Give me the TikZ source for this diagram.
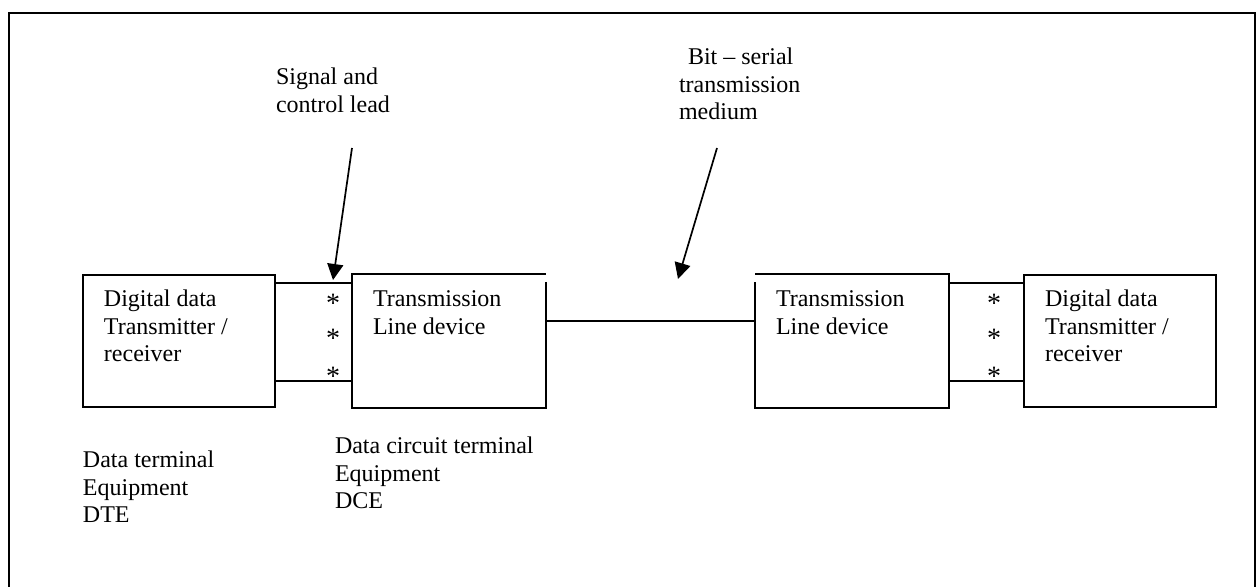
\documentclass[tikz,border=0pt]{standalone}
\usepackage{fontspec}
\setmainfont{Liberation Serif}
\usetikzlibrary{arrows.meta}
\begin{document}
\begin{tikzpicture}[x=0.5pt,y=-0.5pt,
  line width=1pt,
  unit/.style={rectangle,inner sep=0pt,minimum width=96pt,minimum height=66pt,anchor=north west},
  lbl/.style={inner sep=0pt,anchor=base west,align=left,font=\fontsize{12}{13.75}\selectfont},
  star/.style={inner sep=0pt,anchor=base,font=\fontsize{14}{14}\selectfont},
  pointer/.style={line width=0.85pt,-{Triangle[length=8pt,width=8pt]}}]
\useasboundingbox (0,0) rectangle (1260,587);
\clip (0,0) rectangle (1260,587);

% outer frame, open at the bottom
\draw (9,600) -- (9,13) -- (1255,13) -- (1255,600);

% the four units
\node[unit,draw] (dte1) at (82,274) {};
\node[unit] (dce1) at (352,274) {};
\node[unit] (dce2) at (755,274) {};
\node[unit,draw] (dte2) at (1023,274) {};
\draw ([yshift=-4pt]dce1.north east) -- (dce1.south east) -- (dce1.south west)
      -- (dce1.north west) -- (dce1.north east);
\draw (dce2.north west) -- (dce2.north east) -- (dce2.south east)
      -- (dce2.south west) -- ([yshift=-4pt]dce2.north west);

% texts inside the units (anchored on the baseline of their last line)
\node[lbl] (t1) at (103,362) {Digital data\\Transmitter /\\receiver};
\node[lbl] (t2) at (372,334.5) {Transmission\\Line device};
\node[lbl] (t3) at (775,334.5) {Transmission\\Line device};
\node[lbl] (t4) at (1044,362) {Digital data\\Transmitter /\\receiver};

% signal and control leads
\draw ([yshift=-4.5pt]dte1.north east) -- ([yshift=-4.5pt]dce1.north west);
\draw ([yshift=13.5pt]dte1.south east) -- ([yshift=13.5pt]dce1.south west);
\draw ([yshift=-4.5pt]dce2.north east) -- ([yshift=-4.5pt]dte2.north west);
\draw ([yshift=13.5pt]dce2.south east) -- ([yshift=13.5pt]dte2.south west);
\foreach \x/\n in {333/a,994/b}{
  \node[star] (\n1) at (\x,313) {*};
  \node[star] (\n2) at (\x,348) {*};
  \node[star] (\n3) at (\x,386) {*};
}

% bit-serial transmission medium
\draw ([yshift=-23.5pt]dce1.north east) -- ([yshift=-23.5pt]dce2.north west);

% callouts
\node[lbl] (sig) at (275,112.5) {Signal and\\control lead};
\node[lbl] (bit) at (678,120) {\hspace*{4.5pt}Bit -- serial\\transmission\\medium};
\coordinate (sigfrom) at (352,148);
\coordinate (sigto) at (333,280);
\coordinate (bitfrom) at (717,148);
\coordinate (bitto) at (678,279);
\draw[pointer] (sigfrom) -- (sigto);
\draw[pointer] (bitfrom) -- (bitto);

% names under the units
\node[lbl] (dtename) at (82,523) {Data terminal\\Equipment\\DTE};
\node[lbl] (dcename) at (334,509) {Data circuit terminal\\Equipment\\DCE};
\end{tikzpicture}
\end{document}
